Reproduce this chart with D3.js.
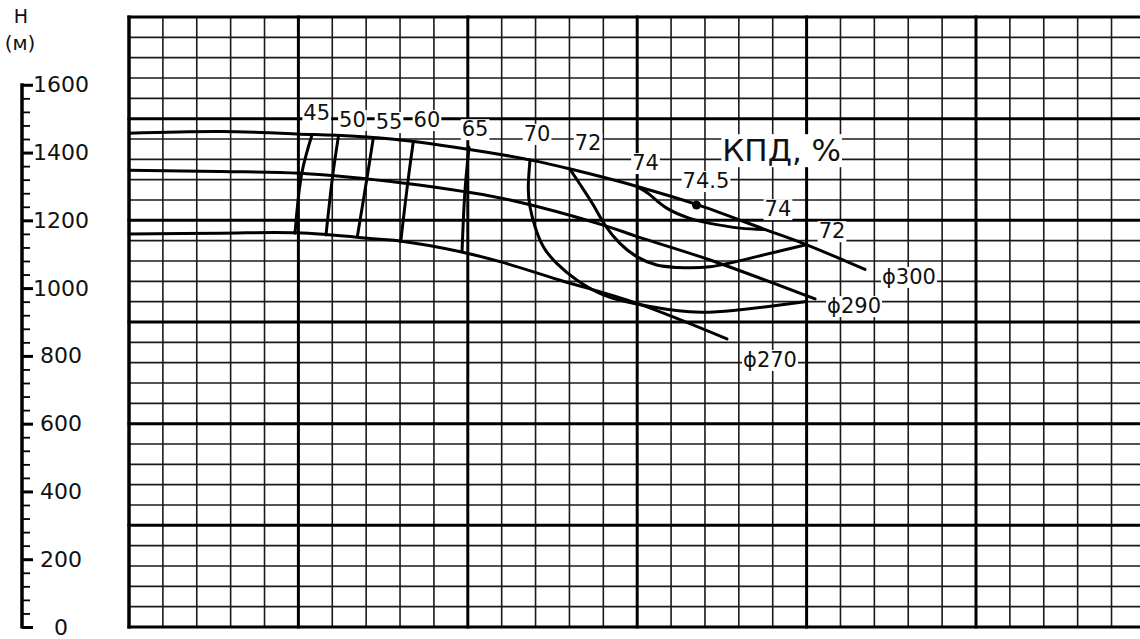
<!DOCTYPE html>
<html>
<head>
<meta charset="utf-8">
<script src="https://cdn.jsdelivr.net/npm/d3@7"></script>
<style>
  html, body { margin: 0; padding: 0; background: #fff; }
  svg { display: block; }
  text { font-family: "DejaVu Sans", sans-serif; fill: #111; }
</style>
</head>
<body>
<svg id="chart" width="1140" height="639"></svg>
<script>
// Head–capacity curves for three impeller diameters, [Q, H]
const curve300 = [[0,1457],[54,1462],[99,1455],[150,1442],[200,1410],[238,1377],[260,1352],[300,1300],[335,1247],[376,1172],[399,1130],[434.5,1055]];
const curve290 = [[0,1348],[54,1344],[101,1339],[164,1309],[199,1284],[225,1260],[280,1186],[300,1152],[343,1083],[405,968]];
const curve270 = [[0,1160],[54,1162],[99,1163],[148,1144],[160,1139],[195,1108],[219,1078],[254,1024],[300,955],[353,850]];

// Efficiency iso-lines, [Q, H]
const eta45 = [[108,1452],[102,1339],[98,1162]];
const eta50 = [[123.6,1447],[120.3,1334],[116.3,1157]];
const eta55 = [[144.2,1442],[140.3,1319],[134.8,1152]];
const eta60 = [[167.8,1432],[164.5,1309],[160.4,1137]];
const eta65 = [[200.7,1416],[198.3,1285],[196.6,1108]];
const eta70 = [[236.7,1378],[235.7,1299],[236.7,1240],[239.7,1181],[244.6,1122],[252.5,1073],[264.3,1024],[280,980],[299.7,953],[331,930],[356.7,934],[376.4,945],[399,960]];
const eta72 = [[260.3,1351],[267.2,1299],[274.1,1245],[281,1186],[289.8,1132],[299.7,1093],[311.5,1068],[323.3,1061],[342.9,1063],[370.5,1093],[399,1127]];
const eta74 = [[299.7,1300],[307.6,1275],[317.4,1236],[331,1206],[342.9,1191],[360.6,1177],[375.4,1173]];
const bestPoint = [335, 1245];

// Axis ticks
const hMajorTicks = [0, 200, 400, 600, 800, 1000, 1200, 1400, 1600];
const hMinorTicks = d3.range(0, 1601, 40);

// Text labels and where they sit, [Q, H]
const curveLabels = ["ϕ300", "ϕ290", "ϕ270"];
const curveLabelPos = [[460.4,1033],[428,947],[378.4,788]];
const etaLabels = ["45", "50", "55", "60", "65", "70", "72", "74", "74.5", "74", "72"];
const etaLabelPos = [[110.8,1518],[131.9,1496],[153.5,1490],[175.9,1496],[204.3,1469],[240.9,1455],[271,1428],[304.9,1369],[340.6,1316],[383.1,1233],[415,1168]];
const titleLabel = "КПД, %";
const titleLabelPos = [385.3, 1407];

const svg = d3.select("#chart");

// Scales: Q grid (major every 100, minor every 20), H from 0 to 1800
const x = d3.scaleLinear().domain([0, 600]).range([129, 1145.4]);
const y = d3.scaleLinear().domain([0, 1800]).range([627, 17]);

// ---- grid ----
const grid = svg.append("g");
const xMinor = d3.range(0, 601, 20).filter(v => v % 100 !== 0);
const xMajor = d3.range(0, 601, 100);
const yMinor = d3.range(0, 1801, 60).filter(v => v % 300 !== 0);
const yMajor = d3.range(0, 1801, 300);

grid.selectAll(".vmin").data(xMinor).join("line")
  .attr("x1", d => x(d)).attr("x2", d => x(d))
  .attr("y1", y(1800)).attr("y2", y(0))
  .attr("stroke", "#1a1a1a").attr("stroke-width", 1.6);
grid.selectAll(".hmin").data(yMinor).join("line")
  .attr("y1", d => y(d)).attr("y2", d => y(d))
  .attr("x1", x(0)).attr("x2", x(600))
  .attr("stroke", "#1a1a1a").attr("stroke-width", 1.6);
grid.selectAll(".vmaj").data(xMajor).join("line")
  .attr("x1", d => x(d)).attr("x2", d => x(d))
  .attr("y1", y(1800) - 1.5).attr("y2", y(0) + 1.5)
  .attr("stroke", "#000").attr("stroke-width", d => d === 0 ? 3.5 : 3);
grid.selectAll(".hmaj").data(yMajor).join("line")
  .attr("y1", d => y(d)).attr("y2", d => y(d))
  .attr("x1", x(0) - 1.5).attr("x2", x(600))
  .attr("stroke", "#000").attr("stroke-width", 3);

// ---- H axis ----
const axisX = 22;
const axisMinor = d3.axisRight(y).tickValues(hMinorTicks).tickSize(8).tickSizeOuter(0).tickFormat("");
const axisMajor = d3.axisRight(y).tickValues(hMajorTicks).tickSize(11).tickSizeOuter(0).tickFormat("");
const gMinor = svg.append("g").attr("transform", `translate(${axisX},0)`).call(axisMinor);
const gMajor = svg.append("g").attr("transform", `translate(${axisX},0)`).call(axisMajor);
gMinor.select(".domain").remove();
gMajor.select(".domain").remove();
gMinor.selectAll(".tick line").attr("stroke", "#000").attr("stroke-width", 1.8);
gMajor.selectAll(".tick line").attr("stroke", "#000").attr("stroke-width", 3);
svg.append("line")
  .attr("x1", axisX).attr("x2", axisX)
  .attr("y1", y(1600) - 1.5).attr("y2", y(0) + 1.5)
  .attr("stroke", "#000").attr("stroke-width", 3.5);

svg.append("g").selectAll("text").data(hMajorTicks).join("text")
  .attr("x", 61).attr("y", d => y(d))
  .attr("text-anchor", "middle").attr("dominant-baseline", "central")
  .style("font-size", "22px")
  .text(d => d);

svg.append("text").attr("x", 21).attr("y", 16)
  .attr("text-anchor", "middle").attr("dominant-baseline", "central")
  .style("font-size", "19px").text("H");
svg.append("text").attr("x", 20).attr("y", 43)
  .attr("text-anchor", "middle").attr("dominant-baseline", "central")
  .style("font-size", "20px").text("(м)");

// ---- curves ----
const line = d3.line().x(d => x(d[0])).y(d => y(d[1])).curve(d3.curveCatmullRom.alpha(0.5));
const smooth = d3.line().x(d => x(d[0])).y(d => y(d[1])).curve(d3.curveNatural);
const curves = svg.append("g").attr("fill", "none").attr("stroke", "#000")
  .attr("stroke-width", 3).attr("stroke-linecap", "round").attr("stroke-linejoin", "round");
[curve300, curve290, curve270].forEach(c => curves.append("path").attr("d", line(c)));
[eta45, eta50, eta55, eta60, eta65].forEach(c => curves.append("path").attr("d", line(c)));
[eta70, eta72, eta74].forEach(c => curves.append("path").attr("d", smooth(c)));

svg.append("circle").attr("cx", x(bestPoint[0])).attr("cy", y(bestPoint[1])).attr("r", 4.5).attr("fill", "#000");

// ---- labels with white backing ----
function boxedLabel(text, pos, size) {
  const g = svg.append("g");
  const t = g.append("text")
    .attr("x", x(pos[0])).attr("y", y(pos[1]))
    .attr("text-anchor", "middle").attr("dominant-baseline", "central")
    .style("font-size", size + "px").text(text);
  const b = t.node().getBBox();
  g.insert("rect", "text")
    .attr("x", b.x - 1).attr("y", b.y + 2)
    .attr("width", b.width + 2).attr("height", b.height - 3)
    .attr("fill", "#fff");
}
etaLabels.forEach((t, i) => boxedLabel(t, etaLabelPos[i], 21));
curveLabels.forEach((t, i) => boxedLabel(t, curveLabelPos[i], 21));
boxedLabel(titleLabel, titleLabelPos, 31);
</script>
</body>
</html>
